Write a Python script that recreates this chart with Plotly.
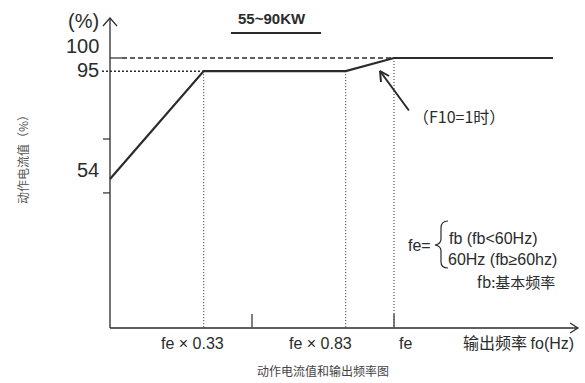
import plotly.graph_objects as go

# ---- data ----
freq_ratio = [0.0, 0.33, 0.83, 1.0, 1.56]
current_pct = [54, 95, 95, 100, 100]
y_tick_vals = [100, 95, 54]
y_tick_text = ["100", "95", "54"]
x_tick_vals = [0.33, 0.83, 1.0]
x_tick_text = ["fe × 0.33", "fe × 0.83", "fe"]
x_minor_ticks = [0.5, 1.0]
y_minor_ticks = [69.2, 48.7]

W, H = 585, 383
X0PX, XSC = 110, 284.0      # pixel of x=0, px per unit
Y100PX, YSC = 58, 2.63      # pixel of y=100, px per unit


def X(px):
    return (px - X0PX) / XSC


def Y(py):
    return 100 - (py - Y100PX) / YSC


INK = "#2b2b2b"
FONT = "Liberation Sans, Arial, sans-serif"
CJK = "Noto Sans CJK SC"

fig = go.Figure()

# main curve
fig.add_trace(go.Scatter(x=freq_ratio, y=current_pct, mode="lines",
                         line=dict(color=INK, width=2.2), hoverinfo="skip"))

# dashed 100 line & dotted 95 line
fig.add_trace(go.Scatter(x=[X(122), freq_ratio[3]], y=[100, 100], mode="lines",
                         line=dict(color=INK, width=1.5, dash="5px,3px")))
fig.add_trace(go.Scatter(x=[0, X(122)], y=[100, 100], mode="lines",
                         line=dict(color=INK, width=1.2)))
fig.add_trace(go.Scatter(x=[X(102), freq_ratio[1]], y=[95, 95], mode="lines",
                         line=dict(color=INK, width=1.5, dash="2px,2px")))

# vertical dotted guides
y_axis_bottom = Y(328)
for xv, yv in zip(freq_ratio[1:4], current_pct[1:4]):
    fig.add_trace(go.Scatter(x=[xv, xv], y=[yv, y_axis_bottom], mode="lines",
                             line=dict(color=INK, width=1, dash="1px,2px")))

# axes
fig.add_trace(go.Scatter(x=[0, 0], y=[y_axis_bottom, Y(18)], mode="lines",
                         line=dict(color=INK, width=1.3)))
fig.add_trace(go.Scatter(x=[0, X(578)], y=[y_axis_bottom, y_axis_bottom], mode="lines",
                         line=dict(color=INK, width=1.3)))
# arrow heads
fig.add_trace(go.Scatter(x=[X(103), 0, X(117)], y=[Y(26), Y(18), Y(26)], mode="lines",
                         line=dict(color=INK, width=1.2)))
fig.add_trace(go.Scatter(x=[X(570), X(578), X(570)], y=[Y(323), Y(328), Y(333)], mode="lines",
                         line=dict(color=INK, width=1.2)))
# minor ticks
for xv in x_minor_ticks:
    fig.add_trace(go.Scatter(x=[xv, xv], y=[y_axis_bottom, Y(314)], mode="lines",
                             line=dict(color="#555", width=1.5)))
for yv in y_minor_ticks:
    fig.add_trace(go.Scatter(x=[X(103), 0], y=[yv, yv], mode="lines",
                             line=dict(color=INK, width=1.2)))

# y tick labels
for v, t in zip(y_tick_vals, y_tick_text):
    fig.add_annotation(x=X(101), y=v + {100: 4.5, 95: 0.3, 54: 3.5}[v], text=t, showarrow=False,
                       xanchor="right", yanchor="middle",
                       font=dict(family=FONT, size=20, color=INK))
fig.add_annotation(x=X(101), y=Y(21), text="(%)", showarrow=False, xanchor="right",
                   yanchor="middle", font=dict(family=FONT, size=20, color=INK))

# x tick labels
for v, t, px in zip(x_tick_vals, x_tick_text, [192, 320, 405]):
    fig.add_annotation(x=X(px), y=Y(343), text=t, showarrow=False, xanchor="center",
                       yanchor="middle", font=dict(family=FONT, size=16, color=INK))
fig.add_annotation(x=X(576), y=Y(342), text="输出频率 <span style='font-family:Liberation Sans'>fo(Hz)</span>",
                   showarrow=False, xanchor="right", yanchor="middle",
                   font=dict(family=CJK, size=16, color=INK))

# axis titles
fig.add_annotation(x=X(22), y=Y(157), text="动作电流值（%）", showarrow=False, textangle=-90,
                   xanchor="center", yanchor="middle", font=dict(family=CJK, size=12, color="#555"))
fig.add_annotation(x=X(323), y=Y(370), text="动作电流值和输出频率图", showarrow=False,
                   xanchor="center", yanchor="middle", font=dict(family=CJK, size=12, color="#444"))

# title 55~90KW with underline
fig.add_annotation(x=X(272), y=Y(18), text="<b>55~90KW</b>", showarrow=False,
                   xanchor="center", yanchor="middle", font=dict(family=FONT, size=15, color=INK))
fig.add_shape(type="line", x0=X(231), x1=X(321), y0=Y(33), y1=Y(33),
              line=dict(color=INK, width=2))

# F10 annotation with arrow
fig.add_annotation(x=X(380), y=Y(71), ax=X(410), ay=Y(112), axref="x", ayref="y",
                   text="", showarrow=True, arrowhead=0, arrowwidth=2, arrowcolor=INK)
fig.add_trace(go.Scatter(x=[X(381), X(380), X(389)], y=[Y(82), Y(71), Y(76)], mode="lines",
                         line=dict(color=INK, width=2)))
fig.add_annotation(x=X(411), y=Y(116), text="（F10=1时）", showarrow=False, xanchor="left",
                   yanchor="middle", font=dict(family=CJK, size=16, color=INK))

# fe= definition
fig.add_annotation(x=X(433), y=Y(245), text="fe=", showarrow=False, xanchor="right",
                   yanchor="middle", font=dict(family=FONT, size=16, color=INK))
fig.add_shape(type="path",
              path=f"M {X(448)},{Y(221)} Q {X(441)},{Y(221)} {X(441)},{Y(228)} L {X(441)},{Y(239)} "
                   f"Q {X(441)},{Y(244)} {X(435)},{Y(245)} Q {X(441)},{Y(246)} {X(441)},{Y(251)} "
                   f"L {X(441)},{Y(262)} Q {X(441)},{Y(268)} {X(448)},{Y(268)}",
              line=dict(color=INK, width=1.2))
fig.add_annotation(x=X(447), y=Y(238), text="fb (fb&lt;60Hz)", showarrow=False, xanchor="left",
                   yanchor="middle", font=dict(family=FONT, size=16, color=INK))
fig.add_annotation(x=X(446), y=Y(259), text="60Hz (fb≥60hz)", showarrow=False, xanchor="left",
                   yanchor="middle", font=dict(family=FONT, size=16, color=INK))
fig.add_annotation(x=X(557), y=Y(281), text="fb:基本频率", showarrow=False, xanchor="right",
                   yanchor="middle", font=dict(family=CJK, size=15, color=INK))

fig.update_layout(
    width=W, height=H, margin=dict(l=0, r=0, t=0, b=0),
    paper_bgcolor="white", plot_bgcolor="white", showlegend=False,
    xaxis=dict(range=[X(0), X(W)], visible=False, fixedrange=True),
    yaxis=dict(range=[Y(H), Y(0)], visible=False, fixedrange=True),
)

fig.write_html("out.html", config={"displayModeBar": False},
               post_script="document.body.style.margin='0';document.body.style.overflow='hidden';")
